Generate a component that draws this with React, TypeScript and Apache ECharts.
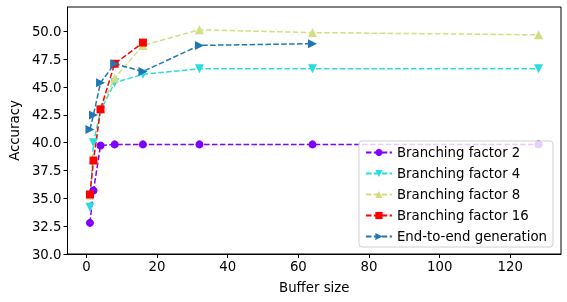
import React, { useEffect, useRef } from "react";
import * as echarts from "echarts";

const bufferSizes = [1, 2, 4, 8, 16, 32, 64, 128];
const bf2 = [32.8, 35.7, 39.75, 39.85, 39.85, 39.85, 39.85, 39.85];
const bf4 = [34.2, 40.0, 42.9, 45.4, 46.15, 46.65, 46.65, 46.65];
const bf8 = [35.3, 38.5, 43.1, 45.8, 48.75, 50.15, 49.9, 49.7];
const bf16 = [35.35, 38.4, 43.0, 47.1, 49.0];
const e2e = [41.2, 42.5, 45.4, 47.1, 46.4, 48.75, 48.9];
const xTicks = [0, 20, 40, 60, 80, 100, 120];
const yTicks = [30, 32.5, 35, 37.5, 40, 42.5, 45, 47.5, 50];

const seriesNames = [
  "Branching factor 2",
  "Branching factor 4",
  "Branching factor 8",
  "Branching factor 16",
  "End-to-end generation",
];

export default function App() {
  const ref = useRef<HTMLDivElement>(null);
  useEffect(() => {
    if (!ref.current) return;
    const chart = echarts.init(ref.current, null, { renderer: "svg" });
    const font = "DejaVu Sans";
    const mk = (
      name: string,
      vals: number[],
      color: string,
      symbol: string,
      rot: number,
      size: number
    ) => ({
      name,
      type: "line",
      data: vals.map((v, i) => [bufferSizes[i], v]),
      symbol,
      symbolRotate: rot,
      symbolSize: size,
      lineStyle: { color, width: 1.5, type: [5.5, 2.4] },
      itemStyle: { color },
      emphasis: { disabled: true },
    });
    chart.setOption({
      animation: false,
      textStyle: { fontFamily: font },
      grid: {
        left: 65,
        right: 6,
        top: 7,
        bottom: 48,
        show: true,
        borderColor: "#000",
        borderWidth: 1,
      },
      legend: {
        orient: "vertical",
        right: 14,
        bottom: 55,
        z: 10,
        data: seriesNames,
        itemWidth: 26,
        itemHeight: 9,
        itemGap: 8,
        padding: [5, 6, 4, 6],
        backgroundColor: "rgba(255,255,255,0.8)",
        borderColor: "#d0d0d0",
        borderWidth: 1,
        borderRadius: 3,
        textStyle: { fontSize: 13.3, color: "#000", fontFamily: font },
      },
      xAxis: {
        type: "value",
        min: -5.35,
        max: 134.35,
        name: "Buffer size",
        nameLocation: "middle",
        nameGap: 27,
        nameTextStyle: { fontSize: 13.3, color: "#000", fontFamily: font },
        splitLine: { show: false },
        axisLine: { show: true, onZero: false, lineStyle: { color: "#000" } },
        axisTick: {
          show: true,
          length: 4,
          customValues: xTicks,
          lineStyle: { color: "#000" },
        },
        axisLabel: {
          customValues: xTicks,
          color: "#000",
          fontSize: 13.3,
          margin: 6,
          fontFamily: font,
        },
      },
      yAxis: {
        type: "value",
        min: 30,
        max: 52.2,
        name: "Accuracy",
        nameLocation: "middle",
        nameGap: 43,
        nameTextStyle: { fontSize: 13.3, color: "#000", fontFamily: font },
        splitLine: { show: false },
        axisLine: { show: true, onZero: false, lineStyle: { color: "#000" } },
        axisTick: {
          show: true,
          length: 4,
          customValues: yTicks,
          lineStyle: { color: "#000" },
        },
        axisLabel: {
          customValues: yTicks,
          color: "#000",
          fontSize: 13.3,
          margin: 6,
          fontFamily: font,
          formatter: (v: number) => v.toFixed(1),
        },
      },
      series: [
        mk(seriesNames[0], bf2, "#8000ff", "circle", 0, 8),
        mk(seriesNames[1], bf4, "#2adddd", "triangle", 180, 9),
        mk(seriesNames[2], bf8, "#d4dd80", "triangle", 0, 9),
        mk(seriesNames[3], bf16, "#ff0000", "rect", 0, 8),
        mk(seriesNames[4], e2e, "#1f77b4", "triangle", -90, 9),
      ],
    });
    return () => chart.dispose();
  }, []);
  return (
    <div
      ref={ref}
      style={{ position: "fixed", left: 0, top: 0, width: 567, height: 302 }}
    />
  );
}
